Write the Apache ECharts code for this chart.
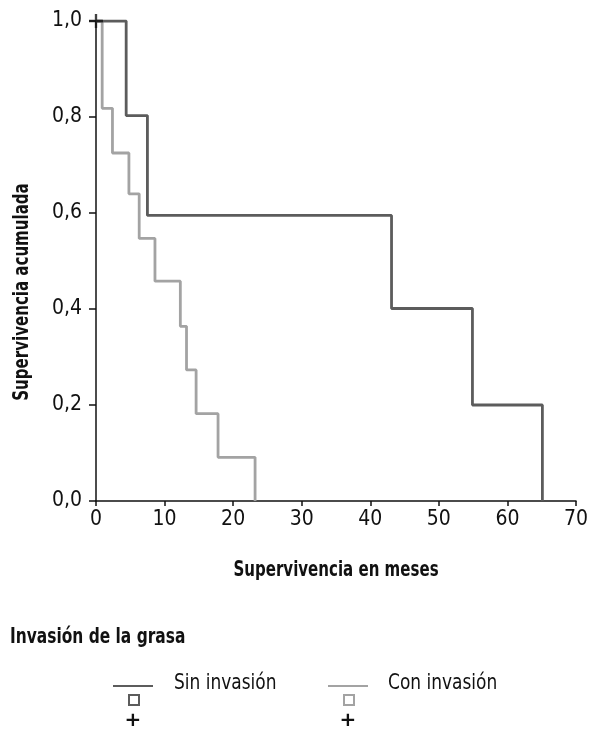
<!DOCTYPE html>
<html>
<head>
<meta charset="utf-8">
<script src="https://cdn.jsdelivr.net/npm/echarts@6/dist/echarts.min.js"></script>
<style>
html,body{margin:0;padding:0;background:#fff;}
#chart{width:591px;height:730px;}
</style>
</head>
<body>
<div id="chart"></div>
<script>
// ---- data ----
var seriesNames = ['Sin invasión', 'Con invasión'];
var sinTimes = [0, 4.4, 7.5, 43.1, 54.9, 65.1];
var sinSurv  = [1.0, 0.803, 0.595, 0.401, 0.2, 0.0];
var conTimes = [0, 0.9, 2.4, 4.8, 6.3, 8.6, 12.3, 13.2, 14.6, 17.8, 23.2];
var conSurv  = [1.0, 0.818, 0.725, 0.64, 0.547, 0.458, 0.364, 0.273, 0.182, 0.091, 0.0];
var censorTimes = [0];
var censorSurv  = [1.0];
var xTicks = [0, 10, 20, 30, 40, 50, 60, 70];
var yTicks = [0, 0.2, 0.4, 0.6, 0.8, 1.0];
var xTitle = 'Supervivencia en meses';
var yTitle = 'Supervivencia acumulada';
var legendTitle = 'Invasión de la grasa';

var FONT = '"DejaVu Sans Condensed", "DejaVu Sans", sans-serif';
var DARK = '#5c5c5c';
var LIGHT = '#a3a3a3';

function zip(a, b){ return a.map(function(v,i){ return [v, b[i]]; }); }

var chart = echarts.init(document.getElementById('chart'), null, {renderer:'canvas'});
var plusPath = 'path://M6,0h2.4v6h6v2.4h-6v6h-2.4v-6h-6v-2.4h6z';

function txt(x, y, text, size, bold, scaleX, rot, align){
  return {type: 'text', x: x, y: y, rotation: rot || 0, scaleX: scaleX, scaleY: 1,
    style: {text: text, fontFamily: FONT, fontSize: size, fontWeight: bold ? 'bold' : 'normal',
      fill: '#111', align: align || 'center', verticalAlign: 'middle'}};
}

var option = {
  backgroundColor: '#ffffff',
  animation: false,
  grid: {left: 96, right: 12, top: 21, bottom: 229},
  xAxis: {
    type: 'value', min: xTicks[0], max: xTicks[xTicks.length-1], interval: 10,
    axisLine: {lineStyle: {color: '#111', width: 1.5}},
    axisTick: {show: true, length: 5, lineStyle: {color: '#111', width: 1.5}},
    axisLabel: {fontFamily: FONT, fontSize: 21, color: '#111', margin: 8},
    splitLine: {show: false}
  },
  yAxis: {
    type: 'value', min: yTicks[0], max: yTicks[yTicks.length-1], interval: 0.2,
    axisLine: {show: true, lineStyle: {color: '#111', width: 1.5}},
    axisTick: {show: true, length: 7, lineStyle: {color: '#111', width: 1.5}},
    axisLabel: {fontFamily: FONT, fontSize: 21, color: '#111', margin: 14,
      formatter: function(v){ return v.toFixed(1).replace('.', ','); }},
    splitLine: {show: false}
  },
  series: [
    {
      name: seriesNames[1], type: 'line', step: 'end', showSymbol: false,
      data: zip(conTimes, conSurv), z: 2,
      lineStyle: {color: LIGHT, width: 2.8}
    },
    {
      name: seriesNames[0], type: 'line', step: 'end', showSymbol: false,
      data: zip(sinTimes, sinSurv), z: 3,
      lineStyle: {color: DARK, width: 2.8}
    },
    {
      name: 'censor', type: 'scatter', data: zip(censorTimes, censorSurv),
      symbol: plusPath, symbolSize: 14, z: 5,
      itemStyle: {color: '#111'}
    }
  ],
  graphic: [
    txt(22, 292, yTitle, 22, true, 0.76, Math.PI/2),
    txt(336, 570, xTitle, 22, true, 0.76),
    txt(10, 637, legendTitle, 22, true, 0.78, 0, 'left'),
    // legend item 1
    {type: 'line', shape: {x1: 113, y1: 686, x2: 153, y2: 686}, style: {stroke: DARK, lineWidth: 2}},
    {type: 'rect', shape: {x: 129, y: 695, width: 10, height: 10}, style: {fill: 'none', stroke: DARK, lineWidth: 2}},
    {type: 'text', x: 133, y: 721, style: {text: '+', fontFamily: 'DejaVu Sans', fontSize: 20, fontWeight: 'bold', fill: '#111', align: 'center', verticalAlign: 'middle'}},
    txt(174, 684, seriesNames[0], 21, false, 0.9, 0, 'left'),
    // legend item 2
    {type: 'line', shape: {x1: 328, y1: 686, x2: 368, y2: 686}, style: {stroke: LIGHT, lineWidth: 2}},
    {type: 'rect', shape: {x: 344, y: 695, width: 10, height: 10}, style: {fill: 'none', stroke: LIGHT, lineWidth: 2}},
    {type: 'text', x: 348, y: 721, style: {text: '+', fontFamily: 'DejaVu Sans', fontSize: 20, fontWeight: 'bold', fill: '#111', align: 'center', verticalAlign: 'middle'}},
    txt(388, 684, seriesNames[1], 21, false, 0.9, 0, 'left')
  ]
};
chart.setOption(option);
</script>
</body>
</html>
